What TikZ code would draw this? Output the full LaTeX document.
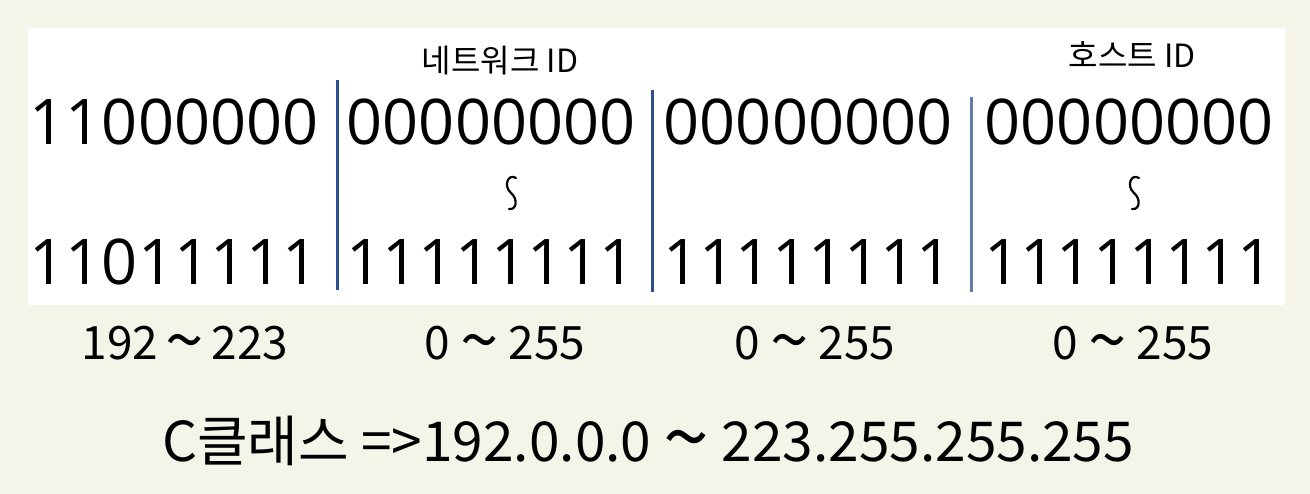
\documentclass[tikz,border=0pt]{standalone}
\usepackage{fontspec}
\setmainfont{Open Sans}
\newfontfamily\kofont{Noto Sans CJK KR}
\definecolor{paper}{HTML}{F5F4E8}
\definecolor{divblue}{HTML}{2E4F8F}
\newcommand{\wavy}{\raisebox{-0.12em}{\scalebox{1.5}{\char`\~}}}
\begin{document}
\begin{tikzpicture}[x=1pt,y=-1pt,
    bits/.style={font=\fontsize{63}{63}\selectfont,inner sep=0pt,anchor=base},
    wave/.style={line width=2.2pt,line cap=round},
    idlabel/.style={font=\kofont\fontsize{32}{32}\selectfont,inner sep=0pt},
    rangelabel/.style={font=\kofont\fontsize{46}{46}\selectfont,inner sep=0pt,anchor=base},
    divider/.style={divblue,line width=3pt}]
    \useasboundingbox[fill=paper] (0,0) rectangle (1310,494);
    \fill[white] (28,28) rectangle (1285,305);
    % binary rows
    \node[bits] (lo1) at (174,145) {11000000};
    \node[bits] (hi1) at (174,285) {11011111};
    \foreach \n/\x in {2/491,3/808,4/1129}
        {\node[bits] (lo\n) at (\x,145) {00000000};
         \node[bits] (hi\n) at (\x,285) {11111111};
        }
    % vertical waves
    \foreach \x in {511,1134}
        \draw[wave] (\x+5,178) .. controls (\x-3,173) and (\x-8,186) .. (\x,193)
                    .. controls (\x+7,199) and (\x+6,210) .. (\x-2,209);
    \node[idlabel] (net) at (500,61) {네트워크 ID};
    \node[idlabel] (host) at (1132,55) {호스트 ID};
    % dividers
    \draw[divider] (337,80) -- (337,290);
    \draw[divider] (652,90) -- (652,292);
    \draw[divider,color=divblue!75] (971,97) -- (971,292);
    % ranges
    \node[rangelabel] (r1) at (185,360) {192\,\wavy\,223};
    \foreach \n/\x in {2/505,3/815,4/1133}
        \node[rangelabel] (r\n) at (\x,360) {0 \wavy{} 255};
    \node[rangelabel,font=\kofont\fontsize{55}{55}\selectfont] (cls) at (648,461)
        {C클래스 =>192.0.0.0 \wavy{} 223.255.255.255};
\end{tikzpicture}
\end{document}
